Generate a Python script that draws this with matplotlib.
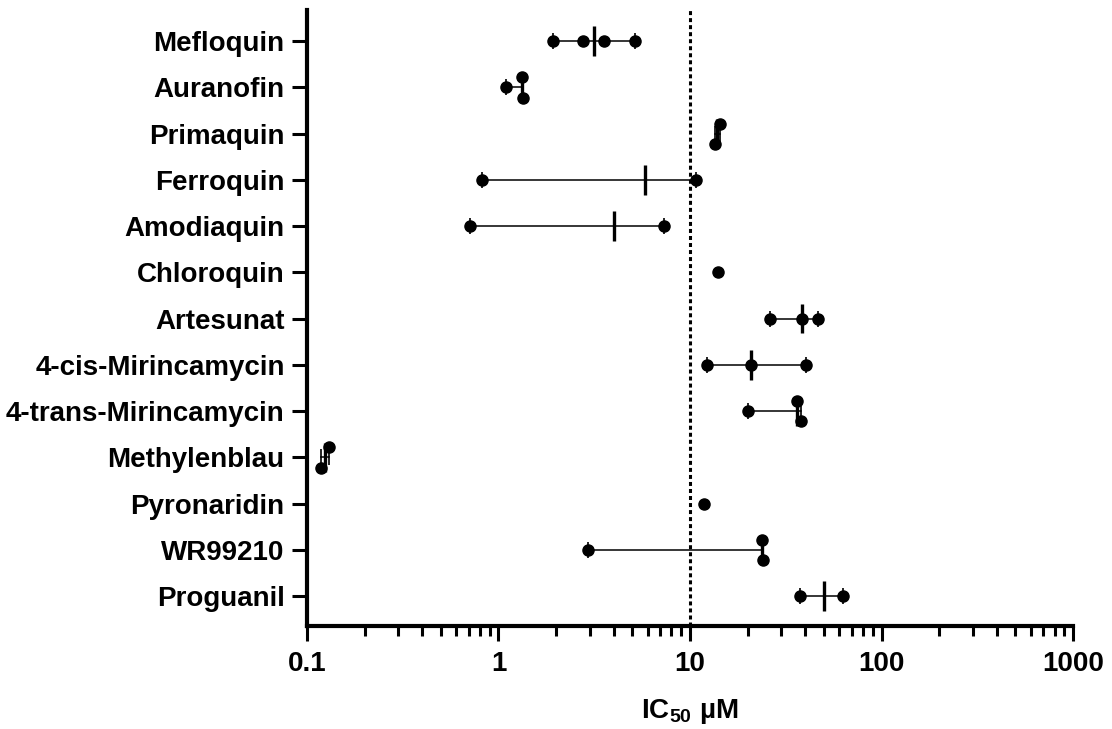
import numpy as np
import matplotlib.pyplot as plt
from matplotlib.ticker import LogLocator, FixedLocator, FixedFormatter, NullFormatter

plt.rcParams['font.family'] = ['Liberation Sans', 'DejaVu Sans']
plt.rcParams['font.weight'] = 'bold'
plt.rcParams['mathtext.fontset'] = 'custom'
plt.rcParams['mathtext.rm'] = 'Liberation Sans:bold'
plt.rcParams['mathtext.it'] = 'Liberation Sans:bold'
plt.rcParams['mathtext.bf'] = 'Liberation Sans:bold'

# IC50 replicates (uM), top to bottom
drugs = ['Mefloquin', 'Auranofin', 'Primaquin', 'Ferroquin', 'Amodiaquin',
         'Chloroquin', 'Artesunat', '4-cis-Mirincamycin', '4-trans-Mirincamycin',
         'Methylenblau', 'Pyronaridin', 'WR99210', 'Proguanil']
mefloquin = [1.93, 2.76, 3.56, 5.14]
auranofin = [1.09, 1.33, 1.35]
primaquin = [14.3, 13.5]
ferroquin = [0.82, 10.8]
amodiaquin = [0.71, 7.29]
chloroquin = [14.0]
artesunat = [26.3, 38.4, 46.8]
cis_mirincamycin = [12.3, 20.7, 40.2]
trans_mirincamycin = [20.2, 36.3, 37.8]
methylenblau = [0.130, 0.119]
pyronaridin = [11.9]
wr99210 = [2.94, 23.9, 24.0]
proguanil = [37.4, 62.7]

values = [mefloquin, auranofin, primaquin, ferroquin, amodiaquin, chloroquin,
          artesunat, cis_mirincamycin, trans_mirincamycin, methylenblau,
          pyronaridin, wr99210, proguanil]

xticks = [0.1, 1, 10, 100, 1000]
xticklabels = ['0.1', '1', '10', '100', '1000']


def jitter(vals, gap=0.06, step=0.44):
    # spread overlapping points vertically like a scatter dot plot
    logs = np.log10(vals)
    offs = np.zeros(len(vals))
    j = 0
    while j < len(vals):
        k = j
        while k + 1 < len(vals) and abs(logs[k + 1] - logs[k]) < gap:
            k += 1
        n = k - j + 1
        if n > 1:
            offs[j:k + 1] = (np.arange(n) - (n - 1) / 2) * step
        j = k + 1
    return offs


fig = plt.figure(figsize=(11.12, 7.29), dpi=100)
ax = fig.add_axes([0.276, 0.141, 0.689, 0.845])

for i, vals in enumerate(values):
    vals = np.array(vals)
    if len(vals) > 1:
        med = np.median(vals)
        ax.plot([vals.min(), vals.max()], [i, i], color='k', lw=1.1, zorder=2)
        ax.plot([vals.min(), vals.max()], [i, i], ls='none', marker='|',
                ms=11, mew=1.2, color='k', zorder=2)
        ax.plot([med, med], [i - 0.32, i + 0.32], color='k', lw=2.4,
                solid_capstyle='butt', zorder=3)
    ax.plot(vals, i + jitter(vals), 'o', color='k', ms=8, zorder=4)

ax.axvline(10, color='k', ls=(0, (1.3, 1.0)), lw=2.2, zorder=1)

ax.set_xscale('log')
ax.set_xlim(0.1, 1000)
ax.set_ylim(12.65, -0.67)

ax.xaxis.set_major_locator(FixedLocator(xticks))
ax.xaxis.set_major_formatter(FixedFormatter(xticklabels))
ax.xaxis.set_minor_locator(LogLocator(base=10, subs=np.arange(2, 10)))
ax.xaxis.set_minor_formatter(NullFormatter())

ax.set_yticks(range(len(drugs)))
ax.set_yticklabels(drugs)

for s in ['top', 'right']:
    ax.spines[s].set_visible(False)
for s in ['left', 'bottom']:
    ax.spines[s].set_linewidth(3)

ax.tick_params(axis='both', which='major', length=11, width=2.2,
               labelsize=20, pad=5)
ax.tick_params(axis='x', which='major', pad=7)
ax.tick_params(axis='x', which='minor', length=7, width=2.2)
ax.tick_params(axis='y', which='minor', left=False)

ax.set_xlabel(r'IC$_{50}$ µM', fontsize=20, fontweight='bold', labelpad=14)

fig.savefig('out.png', dpi=100)
